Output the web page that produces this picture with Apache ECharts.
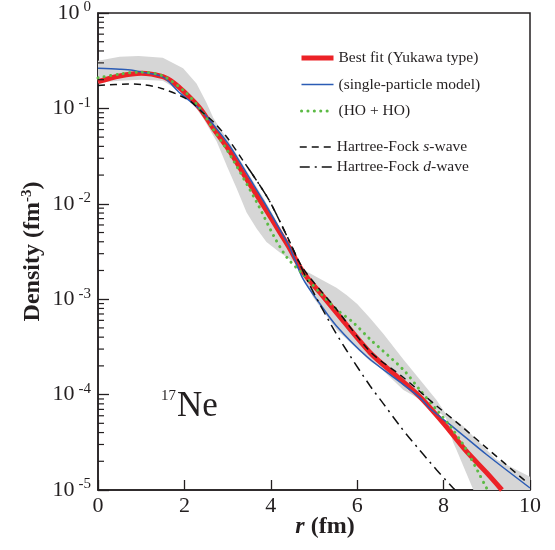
<!DOCTYPE html>
<html><head><meta charset="utf-8">
<script src="https://cdn.jsdelivr.net/npm/echarts@6/dist/echarts.min.js"></script>
<style>html,body{margin:0;padding:0;background:#fff}#c{width:555px;height:550px}</style>
</head><body><div id="c"></div>
<script>
// r (fm), density (fm^-3)
const bestFit = [[0,0.191],[0.5,0.219],[1.0,0.234],[1.5,0.215],[1.75,0.186],[2.0,0.148],[2.36,0.100],[2.67,0.0617],[3.06,0.0350],[3.44,0.0182],[3.83,0.00955],[4.21,0.00501],[4.44,0.00339],[4.75,0.00191],[5.14,0.00117],[5.52,7.24e-4],[6.3,2.75e-4],[6.9,1.58e-4],[7.45,9.5e-5],[8.0,5.0e-5],[8.5,2.63e-5],[9.0,1.51e-5],[9.35,1.0e-5]];
const singleParticle = [[0,0.263],[0.5,0.257],[0.8,0.251],[1.0,0.240],[1.5,0.214],[1.9,0.1445],[2.36,0.0977],[2.67,0.0676],[3.06,0.0398],[3.52,0.0182],[3.83,0.0107],[4.21,0.00537],[4.44,0.00347],[4.75,0.00162],[5.14,8.9e-4],[5.52,5.25e-4],[6.22,2.51e-4],[6.9,1.45e-4],[7.45,9.3e-5],[7.69,7.1e-5],[8.22,4.57e-5],[9.0,2.34e-5],[10,1.05e-5]];
const hoHo = [[0,0.209],[0.5,0.229],[1.0,0.240],[1.5,0.219],[2.0,0.151],[2.36,0.100],[2.67,0.0603],[3.06,0.0324],[3.67,0.0105],[4.06,0.00468],[4.37,0.00275],[4.75,0.00182],[5.14,0.00117],[5.52,7.85e-4],[5.91,5.69e-4],[6.3,3.80e-4],[7.07,1.82e-4],[7.45,1.12e-4],[7.84,6.9e-5],[8.15,4.68e-5],[8.45,3.02e-5],[8.61,2.24e-5],[8.8,1.55e-5],[8.96,1.12e-5],[9.02,1.0e-5]];
const hfS = [[0,0.174],[0.7,0.180],[1.0,0.178],[1.47,0.162],[2.09,0.123],[2.4,0.0923],[2.67,0.0724],[2.98,0.0501],[3.36,0.0282],[3.75,0.0155],[3.98,0.0105],[4.29,0.0055],[4.44,0.00398],[4.75,0.00209],[5.52,7.85e-4],[6.3,2.82e-4],[7.07,1.51e-4],[7.84,7.6e-5],[8.38,4.79e-5],[9.0,2.75e-5],[9.96,1.17e-5]];
const hfD = [[3.5,0.0229],[3.75,0.0155],[3.98,0.0105],[4.29,0.0055],[4.6,0.00275],[4.91,0.00138],[5.41,5.25e-4],[5.76,2.88e-4],[6.3,1.23e-4],[6.6,8.1e-5],[6.99,4.68e-5],[7.22,3.47e-5],[7.84,1.62e-5],[8.22,1.05e-5],[8.27,1.0e-5]];
const bandUpper = [[0,0.316],[0.5,0.347],[0.94,0.355],[1.5,0.339],[1.97,0.263],[2.28,0.182],[2.5,0.1175],[2.67,0.0794],[3.06,0.0427],[3.52,0.0195],[3.83,0.0115],[4.21,0.00575],[4.44,0.00372],[4.6,0.00251],[4.83,0.00195],[5.2,0.00158],[5.52,0.00132],[5.76,0.0011],[6.0,8.9e-4],[6.3,6.3e-4],[6.6,4.37e-4],[7.07,2.34e-4],[7.5,1.35e-4],[7.84,8.7e-5],[8.05,6.3e-5],[8.45,4.68e-5],[9.22,2.09e-5],[10,1.38e-5]];
const bandLower = [[0,0.186],[0.5,0.195],[1.0,0.200],[1.5,0.195],[1.97,0.145],[2.28,0.100],[2.44,0.0785],[2.75,0.0447],[2.98,0.0251],[3.21,0.0145],[3.44,0.00813],[3.67,0.0055],[3.9,0.00398],[4.21,0.00309],[4.44,0.00263],[4.6,0.0024],[4.98,0.00105],[5.52,4.79e-4],[5.76,3.80e-4],[6.3,2.24e-4],[6.53,1.91e-4],[7.07,1.12e-4],[7.3,9.8e-5],[7.84,6.76e-5],[8.05,5.75e-5],[8.22,3.16e-5],[8.3,2.63e-5],[8.69,1.0e-5],[10,1.0e-5]];
const yDecades = [-5,-4,-3,-2,-1];
const minorMultipliers = [2,3,4,5,6,7,8,9];
const minorTicks = [];
yDecades.forEach(e => minorMultipliers.forEach(m => minorTicks.push([0, m * Math.pow(10, e)])));

const FONT = 'Liberation Serif';
const INK = '#231f20';
const names = ['Best fit (Yukawa type)', '(single-particle model)', '(HO + HO)', 'Hartree-Fock s-wave', 'Hartree-Fock d-wave'];

const chart = echarts.init(document.getElementById('c'), null, {renderer: 'canvas'});
const legendText = {
  fontFamily: FONT, fontSize: 15.5, color: INK, lineHeight: 16,
  rich: {n: {fontFamily: FONT, fontSize: 15.5, color: INK}, i: {fontFamily: FONT, fontSize: 15.5, fontStyle: 'italic', color: INK}}
};
const legendFormatter = n => {
  if (n === names[3]) return '{n|Hartree-Fock }{i|s}{n|-wave}';
  if (n === names[4]) return '{n|Hartree-Fock }{i|d}{n|-wave}';
  return '{n|' + n + '}';
};
const hiddenSym = {opacity: 0, color: 'transparent', borderWidth: 0};
chart.setOption({
  animation: false,
  backgroundColor: '#fff',
  grid: {left: 98, right: 25, top: 13, bottom: 60, show: true, borderColor: INK, borderWidth: 1.5, backgroundColor: 'transparent', outerBoundsMode: 'none', containLabel: false},
  xAxis: {
    type: 'value', min: 0, max: 10, interval: 2,
    axisLine: {show: true, lineStyle: {color: INK, width: 1.5}},
    axisTick: {show: true, inside: true, length: 10, lineStyle: {color: INK, width: 1.3}},
    splitLine: {show: false},
    axisLabel: {fontFamily: FONT, fontSize: 22, color: INK, margin: 5},
    name: '{i|r}{b| (fm)}', nameLocation: 'middle', nameGap: 25, nameMoveOverlap: false,
    nameTextStyle: {padding: [0, 0, 0, 22], rich: {i: {fontFamily: FONT, fontSize: 24, fontWeight: 'bold', fontStyle: 'italic', color: INK}, b: {fontFamily: FONT, fontSize: 24, fontWeight: 'bold', color: INK}}}
  },
  yAxis: {
    type: 'log', logBase: 10, min: 1e-5, max: 1,
    axisLine: {show: true, lineStyle: {color: INK, width: 1.5}},
    axisTick: {show: true, inside: true, length: 11, lineStyle: {color: INK, width: 1.3}},
    splitLine: {show: false},
    minorTick: {show: false},
    axisLabel: {
      margin: 7,
      formatter: v => { const e = Math.round(Math.log10(v)); return '{b|10}{s|' + (e === 0 ? '0' : '-' + (-e)) + '}'; },
      rich: {b: {fontFamily: FONT, fontSize: 22, color: INK, lineHeight: 26}, s: {fontFamily: FONT, fontSize: 15, color: INK, verticalAlign: 'top', padding: [0, 0, 0, 4]}}
    },
    name: '{b|Density (fm}{s|-3}{b|)}', nameLocation: 'middle', nameGap: 52, nameMoveOverlap: false,
    nameTextStyle: {rich: {b: {fontFamily: FONT, fontSize: 24, fontWeight: 'bold', color: INK, lineHeight: 26}, s: {fontFamily: FONT, fontSize: 15, fontWeight: 'bold', color: INK, verticalAlign: 'top'}}}
  },
  legend: [
    {left: 294, top: 45, orient: 'vertical', itemWidth: 32, itemHeight: 14, itemGap: 10.5, selectedMode: false,
     itemStyle: hiddenSym,
     data: [
       {name: names[0], lineStyle: {width: 5}, itemStyle: hiddenSym},
       {name: names[1], lineStyle: {width: 1.5}, itemStyle: hiddenSym},
       {name: names[2], lineStyle: {width: 3}, itemStyle: hiddenSym}
     ], textStyle: legendText, formatter: legendFormatter},
    {left: 294, top: 134, orient: 'vertical', itemWidth: 32, itemHeight: 14, itemGap: 4, selectedMode: false,
     itemStyle: hiddenSym,
     data: [
       {name: names[3], lineStyle: {width: 1.5}, itemStyle: hiddenSym},
       {name: names[4], lineStyle: {width: 1.5}, itemStyle: hiddenSym}
     ], textStyle: legendText, formatter: legendFormatter}
  ],
  graphic: [{
    type: 'text', left: 161, top: 389, silent: true,
    style: {text: '{s|17}{n|Ne}', rich: {s: {fontFamily: FONT, fontSize: 15, fill: INK, verticalAlign: 'top', padding: [2, 1, 0, 0]}, n: {fontFamily: FONT, fontSize: 35, fill: INK, lineHeight: 40}}}
  }],
  series: [
    {type: 'custom', name: 'band', silent: true, z: 1, clip: true, data: [[5, 0.01]],
     renderItem: (params, api) => {
       const pts = bandUpper.map(d => api.coord(d)).concat(bandLower.slice().reverse().map(d => api.coord(d)));
       return {type: 'polygon', shape: {points: pts}, style: {fill: '#d6d6d6'}};
     }},
    {type: 'custom', name: 'minor', silent: true, z: 10, clip: false, data: minorTicks,
     renderItem: (params, api) => {
       const p = api.coord([0, api.value(1)]);
       return {type: 'line', shape: {x1: p[0], y1: p[1], x2: p[0] + 6, y2: p[1]}, style: {stroke: INK, lineWidth: 1.2}};
     }},
    {type: 'line', name: names[0], data: bestFit, smooth: 0.3, symbol: 'none', z: 3, clip: true,
     lineStyle: {color: '#ec2227', width: 5}, itemStyle: {color: '#ec2227'}},
    {type: 'line', name: names[1], data: singleParticle, smooth: 0.3, symbol: 'none', z: 4, clip: true,
     lineStyle: {color: '#2b5cb5', width: 1.5}, itemStyle: {color: '#2b5cb5'}},
    {type: 'line', name: names[2], data: hoHo, smooth: 0.3, symbol: 'none', z: 5, clip: true,
     lineStyle: {color: '#5cba45', width: 3, type: [0.1, 6.3], cap: 'round'}, itemStyle: {color: '#5cba45'}},
    {type: 'line', name: names[3], data: hfS, smooth: 0.3, symbol: 'none', z: 6, clip: true,
     lineStyle: {color: '#111', width: 1.5, type: [7, 5]}, itemStyle: {color: '#111'}},
    {type: 'line', name: names[4], data: hfD, smooth: 0.3, symbol: 'none', z: 6, clip: true,
     lineStyle: {color: '#111', width: 1.5, type: [10, 5, 2, 5]}, itemStyle: {color: '#111'}}
  ]
});
</script></body></html>
